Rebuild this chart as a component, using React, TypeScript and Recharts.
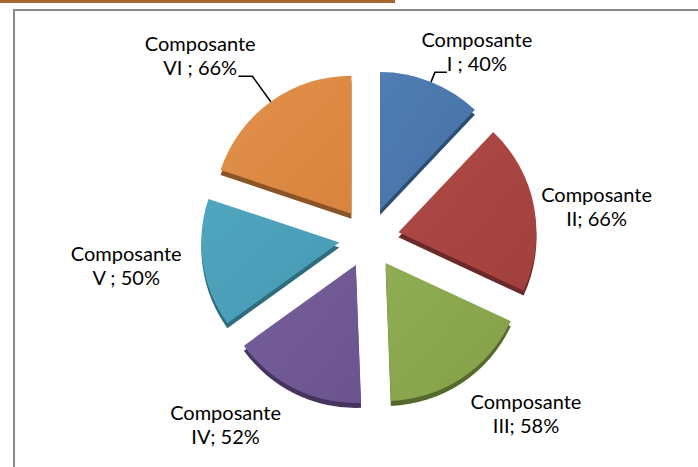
import { PieChart, Pie, Sector } from 'recharts'

const categories = ['I', 'II', 'III', 'IV', 'V', 'VI']
const separators = [' ; ', '; ', '; ', '; ', ' ; ', ' ; ']
const values = [40, 66, 58, 52, 50, 66]
const colors = ['#4671A5', '#A2403D', '#84A04A', '#6B548E', '#4799B2', '#D8843F']
const lightColors = ['#4F7DB3', '#AE4A46', '#8FAD53', '#765E9B', '#50A6BF', '#E2904B']
const sideColors = ['#2E4D72', '#6B2A28', '#56692C', '#45345D', '#2E6C7E', '#8A5425']

// label placement tweaks, Excel "best fit" isn't purely radial
const labelNudge = [-5, -2, 4, -7.5, -1, 3]
const labelReach = [0.98, 0.94, 1.05, 1.06, 1, 1.1]

const data = categories.map((cat, i) => ({
  cat,
  name: `Composante ${cat}`,
  value: values[i],
  line2: `${cat}${separators[i]}${values[i]}%`,
}))

const EXPLODE = 30
const DEPTH = 5
const RAD = Math.PI / 180
const LABEL_RX = 245
const LABEL_RY = 212
const FONT = 'Lato, "Liberation Sans", sans-serif'

function indexOf(props: any): number {
  const cat = props.cat ?? props.payload?.cat
  return Math.max(0, categories.indexOf(cat))
}

function ExplodedSlice(props: any) {
  const { cx, cy, midAngle, outerRadius, startAngle, endAngle } = props
  const i = indexOf(props)
  const ox = EXPLODE * Math.cos(midAngle * RAD)
  const oy = -EXPLODE * Math.sin(midAngle * RAD)
  return (
    <g>
      <Sector
        cx={cx + ox}
        cy={cy + oy + DEPTH}
        innerRadius={0}
        outerRadius={outerRadius}
        startAngle={startAngle}
        endAngle={endAngle}
        fill={sideColors[i]}
        stroke="none"
      />
      <Sector
        cx={cx + ox}
        cy={cy + oy}
        innerRadius={0}
        outerRadius={outerRadius}
        startAngle={startAngle}
        endAngle={endAngle}
        fill={`url(#slice${i})`}
        stroke="none"
      />
    </g>
  )
}

function renderLabel(props: any) {
  const { cx, cy, midAngle, outerRadius } = props
  const i = indexOf(props)
  const a = (midAngle + labelNudge[i]) * RAD
  const lx = cx + LABEL_RX * labelReach[i] * Math.cos(a)
  const ly = cy - LABEL_RY * labelReach[i] * Math.sin(a)
  const c = Math.cos(midAngle * RAD)
  const s = Math.sin(midAngle * RAD)

  let leader = null
  if (s > 0.5) {
    const ax = cx + (EXPLODE + outerRadius) * c
    const ay = cy - (EXPLODE + outerRadius) * s
    const by = ly + 20
    const t = (ay - by) / s
    const bx = ax + t * c
    const dx = c > 0 ? 12 : -14
    leader = (
      <polyline
        points={`${ax},${ay} ${bx},${by} ${bx + dx},${by}`}
        stroke="#000"
        strokeWidth={1.5}
        fill="none"
      />
    )
  }

  return (
    <g key={`lbl${i}`}>
      {leader}
      <text textAnchor="middle" fontFamily={FONT} fontSize={20} fill="#000">
        <tspan x={lx} y={ly - 5}>Composante</tspan>
        <tspan x={lx} y={ly + 19}>{data[i].line2}</tspan>
      </text>
    </g>
  )
}

export default function App() {
  return (
    <div
      style={{
        position: 'fixed',
        left: 0,
        top: 0,
        width: 698,
        height: 467,
        overflow: 'hidden',
        background: '#fff',
      }}
    >
      <div style={{ position: 'absolute', left: 0, top: 0, width: 395, height: 3, background: '#A5652C' }} />
      <div
        style={{
          position: 'absolute',
          left: 13,
          top: 9,
          width: 720,
          height: 500,
          borderLeft: '2px solid #8C8C8C',
          borderTop: '2px solid #8C8C8C',
        }}
      />
      <div style={{ position: 'absolute', left: 0, top: 0 }}>
        <PieChart width={698} height={467} margin={{ top: 0, right: 0, bottom: 0, left: 0 }}>
          <defs>
            {colors.map((col, i) => (
              <linearGradient key={i} id={`slice${i}`} x1="0" y1="0" x2="1" y2="1">
                <stop offset="0%" stopColor={lightColors[i]} />
                <stop offset="100%" stopColor={col} />
              </linearGradient>
            ))}
          </defs>
          <Pie
            data={data}
            dataKey="value"
            nameKey="name"
            cx={369}
            cy={238}
            innerRadius={0}
            outerRadius={138}
            startAngle={90}
            endAngle={-270}
            stroke="none"
            shape={ExplodedSlice}
            label={renderLabel}
            labelLine={false}
            isAnimationActive={false}
          />
        </PieChart>
      </div>
    </div>
  )
}
